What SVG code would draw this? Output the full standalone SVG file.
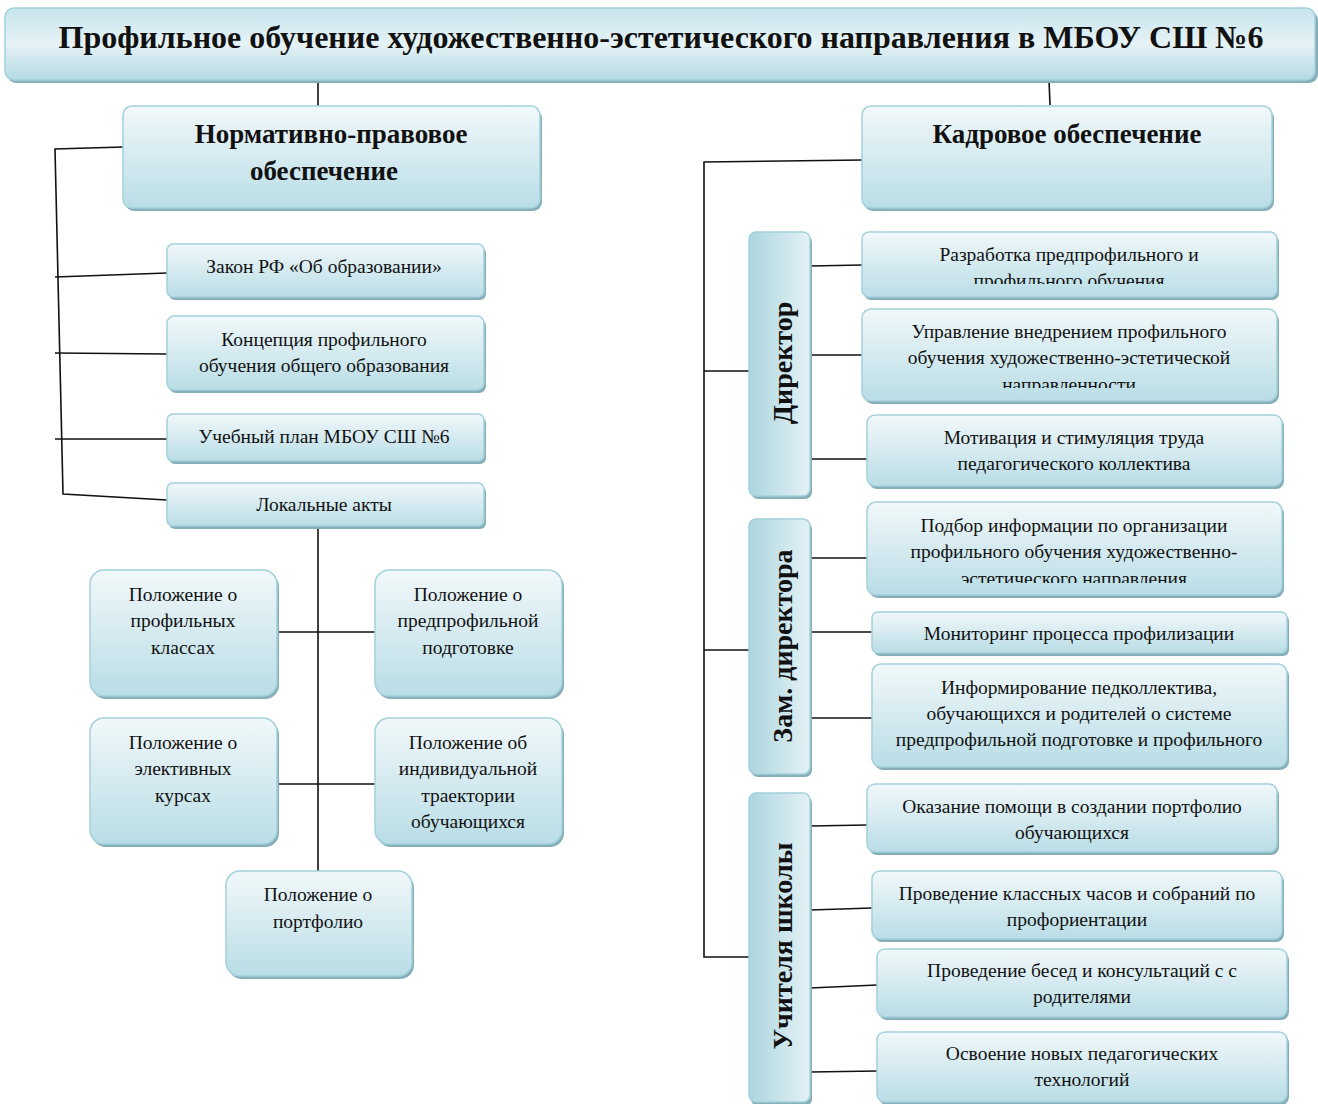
<svg xmlns="http://www.w3.org/2000/svg" width="1318" height="1104" viewBox="0 0 1318 1104">
<defs>
<linearGradient id="g" x1="0" y1="0" x2="0" y2="1">
<stop offset="0" stop-color="#f1f8fa"/>
<stop offset="1" stop-color="#b9dde6"/>
</linearGradient>
<linearGradient id="gt" x1="0" y1="0" x2="0" y2="1">
<stop offset="0" stop-color="#c6e4ec"/>
<stop offset="0.5" stop-color="#e6f3f6"/>
<stop offset="1" stop-color="#b3d9e3"/>
</linearGradient>
<linearGradient id="gv" x1="0" y1="0" x2="1" y2="0">
<stop offset="0" stop-color="#acd5df"/>
<stop offset="1" stop-color="#e4f2f5"/>
</linearGradient>
<clipPath id="c1"><rect x="862" y="232" width="415" height="52"/></clipPath>
<clipPath id="c2"><rect x="862" y="309" width="415" height="79"/></clipPath>
<clipPath id="c3"><rect x="867" y="502" width="415" height="81"/></clipPath>
</defs>
<style>
.sh{fill:#86aeb9}
.b{fill:url(#g);stroke:#a3d1dc;stroke-width:1.5}
.bt{fill:url(#gt);stroke:#a3d1dc;stroke-width:1.5}
.bv{fill:url(#gv);stroke:#a3d1dc;stroke-width:1.5}
.t{font-family:"Liberation Serif","Times New Roman",serif;font-size:19.5px;fill:#111;text-anchor:middle}
.h{font-family:"Liberation Serif","Times New Roman",serif;font-size:27px;font-weight:bold;fill:#111;text-anchor:middle}
.ti{font-family:"Liberation Serif","Times New Roman",serif;font-size:32px;font-weight:bold;fill:#111;text-anchor:middle}
.v{font-family:"Liberation Serif","Times New Roman",serif;font-size:28px;font-weight:bold;fill:#111;text-anchor:middle}
.c{stroke:#111;stroke-width:1.6;fill:none}
</style>
<rect width="1318" height="1104" fill="#fff"/>

<g id="connectors">
<line class="c" x1="318" y1="80" x2="318" y2="106"/>
<line class="c" x1="1049" y1="80" x2="1050" y2="105"/>
<polyline class="c" points="123,147 55,149 63,494 167,500"/>
<line class="c" x1="55" y1="277" x2="167" y2="273"/>
<line class="c" x1="55" y1="353" x2="167" y2="354"/>
<line class="c" x1="55" y1="439" x2="167" y2="439"/>
<line class="c" x1="318" y1="526" x2="318" y2="871"/>
<line class="c" x1="276" y1="632" x2="376" y2="632"/>
<line class="c" x1="276" y1="784" x2="376" y2="784"/>
<polyline class="c" points="862,160 704,162 704,957 749,957"/>
<line class="c" x1="704" y1="371" x2="749" y2="371"/>
<line class="c" x1="704" y1="650" x2="749" y2="650"/>
<line class="c" x1="810" y1="266" x2="862" y2="265"/>
<line class="c" x1="810" y1="355" x2="862" y2="355"/>
<line class="c" x1="810" y1="459" x2="867" y2="459"/>
<line class="c" x1="810" y1="558" x2="867" y2="558"/>
<line class="c" x1="810" y1="632" x2="872" y2="632"/>
<line class="c" x1="810" y1="718" x2="872" y2="718"/>
<line class="c" x1="810" y1="826" x2="867" y2="825"/>
<line class="c" x1="810" y1="910" x2="872" y2="908"/>
<line class="c" x1="810" y1="988" x2="877" y2="985"/>
<line class="c" x1="810" y1="1072" x2="877" y2="1071"/>
</g>

<g id="title">
<rect class="sh" x="7" y="11" width="1311" height="72" rx="9"/>
<rect class="bt" x="5" y="8" width="1310" height="72" rx="9"/>
<text class="ti" x="661" y="48">Профильное обучение художественно-эстетического направления в МБОУ СШ №6</text>
</g>

<g id="normative">
<rect class="sh" x="125" y="109" width="417" height="102" rx="9"/>
<rect class="b" x="123" y="106" width="417" height="102" rx="9"/>
<text class="h" x="331" y="143">Нормативно-правовое</text>
<text class="h" x="324" y="180">обеспечение</text>
</g>

<g id="law">
<rect class="sh" x="169" y="247" width="317" height="53" rx="6"/>
<rect class="b" x="167" y="244" width="317" height="53" rx="6"/>
<text class="t" x="324" y="273">Закон РФ «Об образовании»</text>
</g>
<g id="concept">
<rect class="sh" x="169" y="319" width="317" height="74" rx="7"/>
<rect class="b" x="167" y="316" width="317" height="74" rx="7"/>
<text class="t" x="324" y="346">Концепция профильного</text>
<text class="t" x="324" y="372">обучения общего образования</text>
</g>
<g id="plan">
<rect class="sh" x="169" y="417" width="317" height="47" rx="6"/>
<rect class="b" x="167" y="414" width="317" height="47" rx="6"/>
<text class="t" x="324" y="443">Учебный план МБОУ СШ №6</text>
</g>
<g id="local">
<rect class="sh" x="169" y="486" width="317" height="43" rx="6"/>
<rect class="b" x="167" y="483" width="317" height="43" rx="6"/>
<text class="t" x="324" y="511">Локальные акты</text>
</g>

<g id="prof-classes">
<rect class="sh" x="92" y="573" width="187" height="126" rx="14"/>
<rect class="b" x="90" y="570" width="187" height="126" rx="14"/>
<text class="t" x="183" y="601">Положение о</text>
<text class="t" x="183" y="627">профильных</text>
<text class="t" x="183" y="654">классах</text>
</g>
<g id="preprof">
<rect class="sh" x="377" y="573" width="187" height="126" rx="14"/>
<rect class="b" x="375" y="570" width="187" height="126" rx="14"/>
<text class="t" x="468" y="601">Положение о</text>
<text class="t" x="468" y="627">предпрофильной</text>
<text class="t" x="468" y="654">подготовке</text>
</g>
<g id="elective">
<rect class="sh" x="92" y="721" width="187" height="126" rx="14"/>
<rect class="b" x="90" y="718" width="187" height="126" rx="14"/>
<text class="t" x="183" y="749">Положение о</text>
<text class="t" x="183" y="775">элективных</text>
<text class="t" x="183" y="802">курсах</text>
</g>
<g id="individual">
<rect class="sh" x="377" y="721" width="187" height="126" rx="14"/>
<rect class="b" x="375" y="718" width="187" height="126" rx="14"/>
<text class="t" x="468" y="749">Положение об</text>
<text class="t" x="468" y="775">индивидуальной</text>
<text class="t" x="468" y="802">траектории</text>
<text class="t" x="468" y="828">обучающихся</text>
</g>
<g id="portfolio">
<rect class="sh" x="228" y="874" width="186" height="105" rx="14"/>
<rect class="b" x="226" y="871" width="186" height="105" rx="14"/>
<text class="t" x="318" y="901">Положение о</text>
<text class="t" x="318" y="928">портфолио</text>
</g>

<g id="staff">
<rect class="sh" x="864" y="109" width="410" height="102" rx="9"/>
<rect class="b" x="862" y="106" width="410" height="102" rx="9"/>
<text class="h" x="1067" y="143">Кадровое обеспечение</text>
</g>

<g id="director">
<rect class="sh" x="751" y="235" width="61" height="264" rx="7"/>
<rect class="bv" x="749" y="232" width="61" height="264" rx="7"/>
<text class="v" transform="translate(792,363) rotate(-90)">Директор</text>
</g>
<g id="deputy">
<rect class="sh" x="751" y="522" width="61" height="255" rx="7"/>
<rect class="bv" x="749" y="519" width="61" height="255" rx="7"/>
<text class="v" transform="translate(792,646) rotate(-90)">Зам. директора</text>
</g>
<g id="teachers">
<rect class="sh" x="751" y="796" width="61" height="310" rx="7"/>
<rect class="bv" x="749" y="793" width="61" height="309" rx="7"/>
<text class="v" transform="translate(792,946) rotate(-90)">Учителя школы</text>
</g>

<g id="d1">
<rect class="sh" x="864" y="235" width="415" height="65" rx="7"/>
<rect class="b" x="862" y="232" width="415" height="65" rx="7"/>
<g clip-path="url(#c1)">
<text class="t" x="1069" y="261">Разработка предпрофильного и</text>
<text class="t" x="1069" y="287">профильного обучения</text>
</g>
</g>
<g id="d2">
<rect class="sh" x="864" y="312" width="415" height="92" rx="9"/>
<rect class="b" x="862" y="309" width="415" height="92" rx="9"/>
<g clip-path="url(#c2)">
<text class="t" x="1069" y="338">Управление внедрением профильного</text>
<text class="t" x="1069" y="364">обучения художественно-эстетической</text>
<text class="t" x="1069" y="391">направленности</text>
</g>
</g>
<g id="d3">
<rect class="sh" x="869" y="418" width="415" height="71" rx="8"/>
<rect class="b" x="867" y="415" width="415" height="71" rx="8"/>
<text class="t" x="1074" y="444">Мотивация и стимуляция труда</text>
<text class="t" x="1074" y="470">педагогического коллектива</text>
</g>
<g id="z1">
<rect class="sh" x="869" y="505" width="415" height="93" rx="9"/>
<rect class="b" x="867" y="502" width="415" height="93" rx="9"/>
<g clip-path="url(#c3)">
<text class="t" x="1074" y="532">Подбор информации по организации</text>
<text class="t" x="1074" y="558">профильного обучения художественно-</text>
<text class="t" x="1074" y="585">эстетического направления</text>
</g>
</g>
<g id="z2">
<rect class="sh" x="874" y="615" width="415" height="41" rx="6"/>
<rect class="b" x="872" y="612" width="415" height="41" rx="6"/>
<text class="t" x="1079" y="640">Мониторинг процесса профилизации</text>
</g>
<g id="z3">
<rect class="sh" x="874" y="667" width="415" height="103" rx="9"/>
<rect class="b" x="872" y="664" width="415" height="103" rx="9"/>
<text class="t" x="1079" y="694">Информирование педколлектива,</text>
<text class="t" x="1079" y="720">обучающихся и родителей о системе</text>
<text class="t" x="1079" y="746">предпрофильной подготовке и профильного</text>
</g>
<g id="u1">
<rect class="sh" x="869" y="787" width="410" height="68" rx="8"/>
<rect class="b" x="867" y="784" width="410" height="68" rx="8"/>
<text class="t" x="1072" y="813">Оказание помощи в создании портфолио</text>
<text class="t" x="1072" y="839">обучающихся</text>
</g>
<g id="u2">
<rect class="sh" x="874" y="874" width="410" height="68" rx="8"/>
<rect class="b" x="872" y="871" width="410" height="68" rx="8"/>
<text class="t" x="1077" y="900">Проведение классных часов и собраний по</text>
<text class="t" x="1077" y="926">профориентации</text>
</g>
<g id="u3">
<rect class="sh" x="879" y="952" width="410" height="68" rx="8"/>
<rect class="b" x="877" y="949" width="410" height="68" rx="8"/>
<text class="t" x="1082" y="977">Проведение бесед и консультаций с с</text>
<text class="t" x="1082" y="1003">родителями</text>
</g>
<g id="u4">
<rect class="sh" x="879" y="1035" width="410" height="70" rx="8"/>
<rect class="b" x="877" y="1032" width="410" height="70" rx="8"/>
<text class="t" x="1082" y="1060">Освоение новых педагогических</text>
<text class="t" x="1082" y="1086">технологий</text>
</g>
</svg>
